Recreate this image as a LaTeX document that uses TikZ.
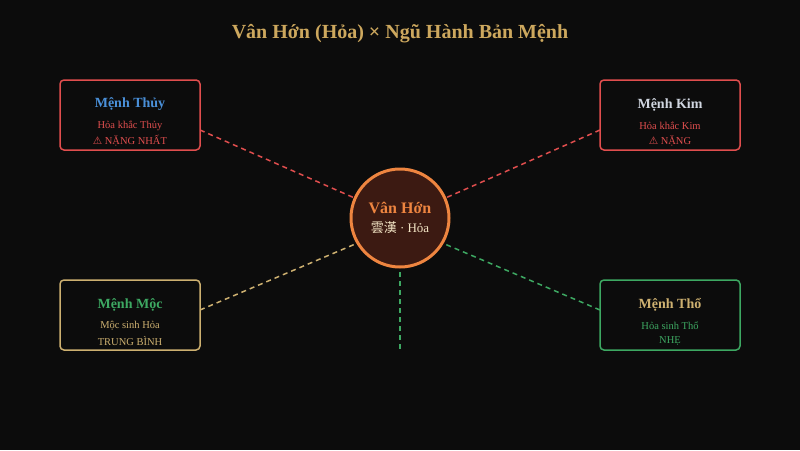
\documentclass[tikz,border=0pt]{standalone}
\usepackage{fontspec}
\setmainfont{Liberation Serif}
\newfontfamily\symfont{DejaVu Sans}
\newfontfamily\cjkfont{Noto Sans CJK TC}
\definecolor{bg}{HTML}{0C0C0C}
\definecolor{gold}{HTML}{CDA85E}
\definecolor{redc}{HTML}{E04E4E}
\definecolor{bluec}{HTML}{4A90D9}
\definecolor{silver}{HTML}{D0D6E0}
\definecolor{greenc}{HTML}{3DA862}
\definecolor{tan}{HTML}{CDB070}
\definecolor{orangec}{HTML}{EE8540}
\definecolor{circfill}{HTML}{3C1A12}
\definecolor{cream}{HTML}{F2E4C4}
\begin{document}
\begin{tikzpicture}[x=1pt,y=-1pt,
  card/.style={draw=#1, line width=1.5pt, rounded corners=4pt, fill=bg, minimum width=140pt, minimum height=70pt, inner sep=0pt},
  link/.style={draw=#1, line width=1.5pt, dash pattern=on 5pt off 4pt},
  ttl/.style={font=\bfseries\fontsize{14}{16}\selectfont, text=#1},
  sub/.style={font=\fontsize{10.5}{12}\selectfont, text=#1}]
\fill[bg] (0,0) rectangle (800,450);
\useasboundingbox (0,0) rectangle (800,450);
\node[text=gold, font=\bfseries\fontsize{20}{22}\selectfont] (title) at (400,34) {Vân Hớn (Hỏa) × Ngũ Hành Bản Mệnh};
\coordinate (c) at (400,218);
\coordinate (tl) at (200,130);
\coordinate (tr) at (600,130);
\coordinate (bl) at (200,310);
\coordinate (br) at (600,310);
\coordinate (cb) at (400,225);
\coordinate (vt) at (400,272);
\coordinate (vb) at (400,350);
% connectors
\draw[link=redc] (tl) -- (c);
\draw[link=redc] (tr) -- (c);
\draw[link=tan] (bl) -- (cb);
\draw[link=greenc] (br) -- (cb);
\draw[link=greenc] (vt) -- (vb);
% boxes
\node[card=redc] (thuy) at (130,115) {};
\node[card=redc] (kim) at (670,115) {};
\node[card=tan] (moc) at (130,315) {};
\node[card=greenc] (tho) at (670,315) {};
\node[circle, draw=orangec, line width=3pt, fill=circfill, minimum size=98pt] (ctr) at (c) {};
% texts
\node[ttl=bluec] (t1) at (130,104.5) {Mệnh Thủy};
\node[sub=redc] (s1a) at (130,125.5) {Hỏa khắc Thủy};
\node[sub=redc] (s1b) at (130,141) {{\symfont\fontsize{10.5}{11}\selectfont ⚠}\hspace{2.5pt}NẶNG NHẤT};
\node[ttl=silver] (t2) at (670,104.5) {Mệnh Kim};
\node[sub=redc] (s2a) at (670,125.5) {Hỏa khắc Kim};
\node[sub=redc] (s2b) at (670,141) {{\symfont\fontsize{10.5}{11}\selectfont ⚠}\hspace{2.5pt}NẶNG};
\node[ttl=greenc] (t3) at (130,304.5) {Mệnh Mộc};
\node[sub=tan] (s3a) at (130,325.5) {Mộc sinh Hỏa};
\node[sub=tan] (s3b) at (130,341) {TRUNG BÌNH};
\node[ttl=tan] (t4) at (670,304.5) {Mệnh Thổ};
\node[sub=greenc] (s4a) at (670,325.5) {Hỏa sinh Thổ};
\node[sub=greenc] (s4b) at (670,341) {NHẸ};
\node[text=orangec, font=\bfseries\fontsize{16}{18}\selectfont] (cn) at (400,208) {Vân Hớn};
\node[text=cream, font=\fontsize{13}{15}\selectfont] (cs) at (400,228) {{\cjkfont 雲漢} · Hỏa};
\end{tikzpicture}
\end{document}
